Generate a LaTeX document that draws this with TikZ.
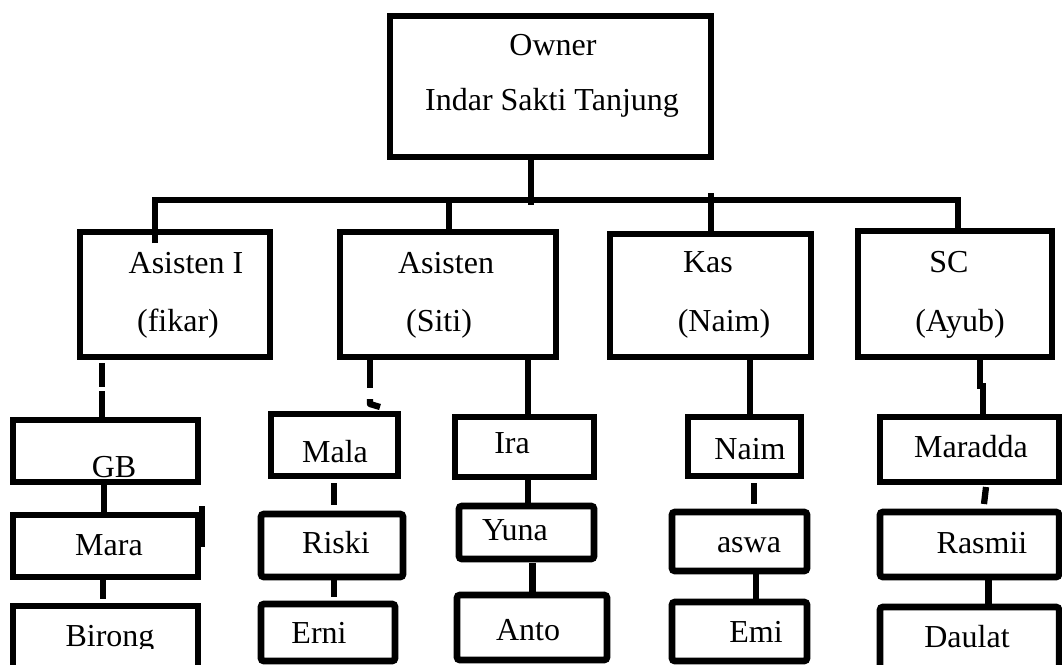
\documentclass[tikz,border=0pt]{standalone}
\usepackage{fontspec}
\setmainfont{Liberation Serif}
\usetikzlibrary{calc}
\newcommand\mybox[6][]{\node[boxst,#1,minimum width={(#5-#3)*0.75pt},minimum height={(#6-#4)*0.75pt}] (#2) at ({(#3+#5)/2},{(#4+#6)/2}) {};}
\begin{document}
\begin{tikzpicture}[x=0.75pt,y=-0.75pt,
  line width=4.7pt,
  boxst/.style={draw=black,line width=4.9pt,rectangle,inner sep=0pt,outer sep=0pt},
  rbox/.style={rounded corners=2pt},
  txt/.style={font=\fontsize{24}{28}\selectfont,inner sep=0pt,anchor=base,text=black}]
\useasboundingbox (0,0) rectangle (1062,664);
\clip (0,0) rectangle (1062,664);
\fill[white] (0,0) rectangle (1062,664);
% boxes
\mybox{owner}{390}{16}{711}{157}
\mybox{asI}{80}{232}{270}{357}
\mybox{asII}{340}{232}{556}{357}
\mybox{kas}{610}{234}{811}{357}
\mybox{sc}{858}{231}{1052}{357}
\mybox{gb}{13}{420}{198}{482}
\mybox{mara}{13}{515}{198}{577}
\mybox{birong}{13}{606}{198}{672}
\mybox{mala}{271}{414}{398}{476}
\mybox[rbox]{riski}{261}{514}{403}{577}
\mybox[rbox]{erni}{261}{604}{395}{661}
\mybox{ira}{455}{417}{594}{477}
\mybox[rbox]{yuna}{459}{506}{594}{559}
\mybox[rbox]{anto}{457}{595}{607}{660}
\mybox{naim}{688}{417}{801}{476}
\mybox[rbox]{aswa}{672}{512}{807}{571}
\mybox[rbox]{emi}{672}{602}{807}{661}
\mybox{maradda}{880}{417}{1059}{482}
\mybox[rbox]{rasmii}{880}{512}{1059}{577}
\mybox[rbox]{daulat}{880}{607}{1059}{672}
% texts
\node[txt] (tOwner) at (553,55) {Owner};
\node[txt] (tIndar) at (552,110) {Indar Sakti Tanjung};
\node[txt] (tAsI) at (186,273) {Asisten I};
\node[txt] (tFikar) at (178,331) {(fikar)};
\node[txt] (tAsII) at (446,273) {Asisten};
\node[txt] (tSiti) at (439,331) {(Siti)};
\node[txt] (tKas) at (708,272) {Kas};
\node[txt] (tNaimK) at (724,331) {(Naim)};
\node[txt] (tSC) at (949,272) {SC};
\node[txt] (tAyub) at (960,331) {(Ayub)};
\node[txt] (tGB) at (114,477) {GB};
\node[txt] (tMara) at (109,555) {Mara};
\begin{scope}
\clip (0,0) rectangle (1062,648);
\node[txt] (tBirong) at (110,646) {Birong};
\end{scope}
\node[txt] (tMala) at (335,462) {Mala};
\node[txt] (tRiski) at (336,553) {Riski};
\node[txt] (tErni) at (319,643) {Erni};
\node[txt] (tIra) at (512,453) {Ira};
\node[txt] (tYuna) at (515,540) {Yuna};
\node[txt] (tAnto) at (528,640) {Anto};
\node[txt] (tNaim) at (750,459) {Naim};
\node[txt] (tAswa) at (749,552) {aswa};
\node[txt] (tEmi) at (756,642) {Emi};
\node[txt] (tMaradda) at (971,457) {Maradda};
\node[txt] (tRasmii) at (982,553) {Rasmii};
\node[txt] (tDaulat) at (967,647) {Daulat};
% top bus
\coordinate (busL) at (155,200);
\coordinate (busR) at (958,200);
\draw ($(asI.north -| busL)+(0,11)$) -- (busL) -- (busR) -- (sc.north -| busR);
\draw (owner.south -| 531,0) -- ($(busL -| 531,0)+(0,5)$);
\draw (busL -| 449,0) -- (asII.north -| 449,0);
\draw ($(busL -| 711,0)+(0,-7)$) -- (kas.north -| 711,0);
% column 1
\draw ($(asI.south -| 102,0)+(0,6)$) -- ($(asI.south -| 102,0)+(0,30)$);
\draw ($(gb.north -| 102,0)+(0,-29)$) -- (gb.north -| 102,0);
\draw (gb.south -| 104,0) -- (mara.north -| 104,0);
\draw (mara.south -| 103,0) -- ($(birong.north -| 103,0)+(0,-7)$);
\fill ($(mara.north east)+(1,-9)$) rectangle ($(mara.north east)+(7,32)$);
% column 2
\draw (asII.south -| 370,0) -- ($(asII.south -| 370,0)+(0,31)$);
\draw[line join=round] ($(mala.north -| 370,0)+(0,-15)$) -- ($(mala.north -| 370,0)+(0,-10)$) -- ($(mala.north -| 380,0)+(0,-7)$);
\draw ($(mala.south -| 334,0)+(0,7)$) -- ($(riski.north -| 334,0)+(0,-9)$);
\draw (riski.south -| 334,0) -- ($(erni.north -| 334,0)+(0,-7)$);
\draw (asII.south -| 528,0) -- (ira.north -| 528,0);
\draw (ira.south -| 528,0) -- (yuna.north -| 528,0);
\draw ($(yuna.south -| 532.5,0)+(0,4)$) -- (anto.north -| 532.5,0);
% column 3
\draw (kas.south -| 750,0) -- (naim.north -| 750,0);
\draw ($(naim.south -| 754,0)+(0,7)$) -- ($(aswa.north -| 754,0)+(0,-8)$);
\draw (aswa.south -| 756,0) -- (emi.north -| 756,0);
% column 4
\draw (sc.south -| 980,0) -- ++(0,29) -- ++(3,0) -- (maradda.north -| 983,0);
\draw ($(maradda.south -| 986,0)+(0,5)$) -- ($(rasmii.north -| 984,0)+(0,-8)$);
\draw (rasmii.south -| 988.5,0) -- (daulat.north -| 988.5,0);
\end{tikzpicture}
\end{document}
